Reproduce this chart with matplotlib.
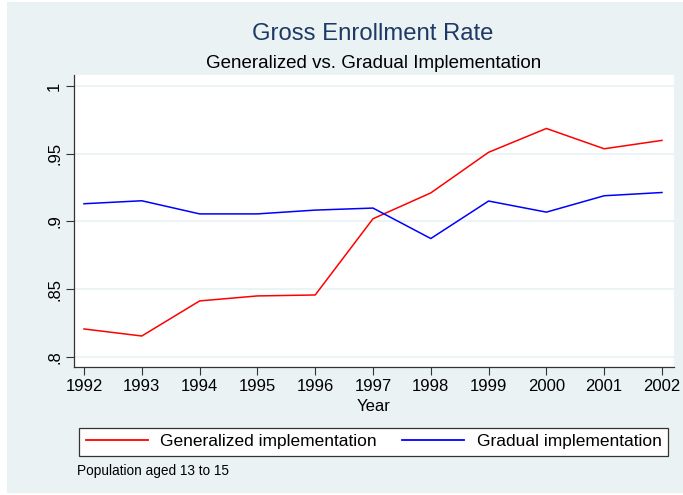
import matplotlib
matplotlib.use("Agg")
import matplotlib.pyplot as plt
from matplotlib.patches import Rectangle

years = [1992, 1993, 1994, 1995, 1996, 1997, 1998, 1999, 2000, 2001, 2002]
generalized = [0.8205, 0.8153, 0.8412, 0.8449, 0.8456, 0.9019, 0.9210, 0.9510, 0.9686, 0.9536, 0.9598]
gradual = [0.9130, 0.9152, 0.9055, 0.9055, 0.9083, 0.9098, 0.8873, 0.9150, 0.9068, 0.9189, 0.9213]
yticks = [0.8, 0.85, 0.9, 0.95, 1.0]
ytick_labels = [".8", ".85", ".9", ".95", "1"]

plt.rcParams['font.family'] = ['Liberation Sans', 'DejaVu Sans']

bg = '#EAF2F3'
W, H = 683, 495
fig = plt.figure(figsize=(6.83, 4.95), dpi=100, facecolor='white')
fig.patches.append(Rectangle((7 / W, 2 / H), 676 / W, 491 / H, transform=fig.transFigure,
                             facecolor=bg, edgecolor='none', zorder=-10))
ax = fig.add_axes([74 / W, 1 - 367 / H, 600 / W, 292 / H])
ax.set_facecolor('white')

l1, = ax.plot(years, generalized, color='#FF0000', lw=1.1, label='Generalized implementation')
l2, = ax.plot(years, gradual, color='#0000FF', lw=1.1, label='Gradual implementation')

ax.set_xlim(1991.827, 2002.208)
ax.set_ylim(0.7924, 1.0081)
ax.set_xticks(years)
ax.set_xticklabels([str(y) for y in years], fontsize=12)
ax.set_yticks(yticks)
ax.set_yticklabels(ytick_labels, fontsize=12, rotation=90, va='center')
ax.grid(axis='y', color='#EAF2F3', lw=1.3)
ax.set_axisbelow(True)
for s in ['top', 'right']:
    ax.spines[s].set_visible(False)
for s in ['left', 'bottom']:
    ax.spines[s].set_color('#333333')
    ax.spines[s].set_linewidth(0.9)
ax.tick_params(axis='both', direction='out', length=5.5, width=0.8, color='#333333', pad=3)
ax.set_xlabel('Year', fontsize=12, labelpad=3.5)

fig.text(373 / W, 1 - 34.5 / H, 'Gross Enrollment Rate', ha='center', va='center',
         fontsize=17.2, color='#1E3A64')
fig.text(374 / W, 1 - 63.5 / H, 'Generalized vs. Gradual Implementation', ha='center', va='center',
         fontsize=13.5, color='black')

leg = fig.legend(handles=[l1, l2], loc='lower left', ncol=2, mode='expand',
                 bbox_to_anchor=(79 / W, 1 - 456 / H, 589 / W, 33 / H),
                 fontsize=12.5, handlelength=3.6, handletextpad=0.7,
                 fancybox=False, framealpha=1, edgecolor='#333333', borderaxespad=0,
                 borderpad=0.38)
leg.get_frame().set_linewidth(0.9)
for ln in leg.get_lines():
    ln.set_linewidth(1.3)

fig.text(77 / W, 1 - 471 / H, 'Population aged 13 to 15', ha='left', va='center', fontsize=9.8)

fig.savefig('out.png', dpi=100, facecolor='white')
